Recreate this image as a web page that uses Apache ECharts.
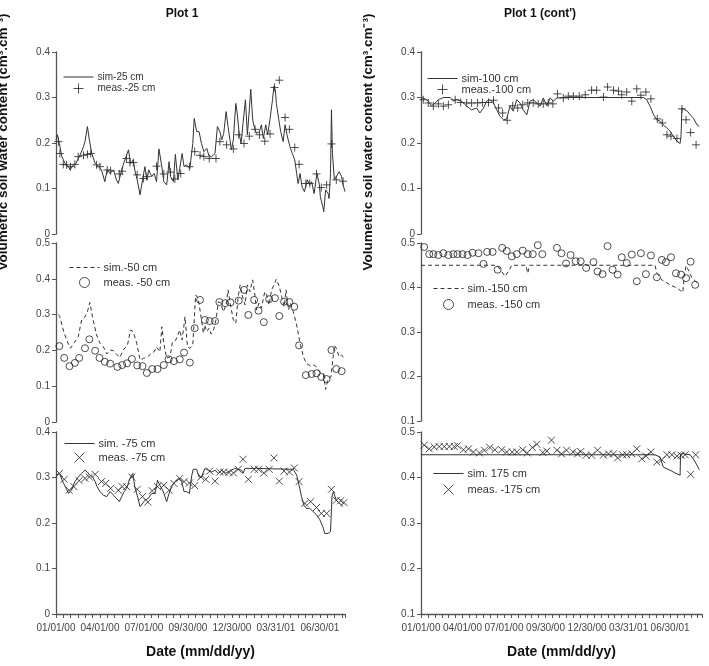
<!DOCTYPE html>
<html>
<head>
<meta charset="utf-8">
<script src="https://cdn.jsdelivr.net/npm/echarts@6/dist/echarts.min.js"></script>
<style>
html, body { margin: 0; padding: 0; background: #fff; }
#chart { width: 709px; height: 666px; }
</style>
</head>
<body>
<div id="chart"></div>
<script>
// x values are days counted from 01/01/00
var sim25Day = [0,3,7,12,19,26,29,36,41,50,57,60,65,69,74,81,88,94,101,106,112,119,125,129,134,139,145,150,154,160,163,168,174,179,184,188,192,198,203,208,213,219,223,229,234,237,243,247,252,256,261,265,270,277,283,286,291,296,301,306,312,317,322,329,334,339,343,347,352,356,360,363,367,372,375,379,383,387,392,396,400,403,407,410,415,421,425,429,434,438,443,448,451,454,456,461,465,470,474,478,484,489,494,498,501,505,509,514,517,520,525,529,534,538,540,545,547,552,554,558,563,565,568,570,572,576,580,586,591,594,598];
var sim25Val = [.207,.218,.199,.170,.155,.148,.141,.152,.155,.174,.192,.203,.236,.207,.177,.155,.148,.141,.115,.141,.133,.141,.119,.111,.133,.152,.170,.185,.155,.163,.141,.119,.086,.119,.148,.119,.141,.126,.133,.115,.187,.148,.115,.108,.159,.126,.115,.175,.119,.144,.177,.148,.152,.144,.199,.254,.225,.225,.199,.181,.188,.170,.170,.177,.236,.225,.207,.221,.269,.236,.207,.185,.207,.287,.265,.221,.199,.243,.295,.218,.273,.318,.251,.236,.221,.225,.240,.210,.240,.218,.254,.295,.325,.316,.287,.251,.225,.203,.240,.218,.192,.177,.163,.133,.111,.133,.104,.093,.089,.119,.108,.115,.089,.086,.133,.108,.082,.060,.049,.097,.089,.078,.133,.273,.177,.119,.119,.137,.126,.108,.093];
var meas25Day = [5,8,15,22,30,39,46,57,65,72,84,91,106,113,131,137,146,153,160,168,181,188,208,223,237,246,258,276,287,298,306,317,331,339,353,367,378,389,400,412,421,432,443,452,462,474,483,494,503,517,525,539,549,560,570,580,594];
var meas25Val = [.203,.177,.153,.152,.148,.153,.170,.173,.175,.177,.152,.148,.141,.139,.132,.138,.166,.157,.157,.130,.122,.126,.149,.132,.136,.121,.133,.148,.181,.173,.170,.166,.166,.203,.196,.187,.218,.199,.215,.230,.218,.204,.220,.322,.338,.256,.230,.190,.153,.111,.111,.132,.102,.108,.198,.119,.116];

var sim50Day = [5,8,15,22,30,37,46,53,60,65,70,76,84,91,98,105,112,119,125,132,139,148,154,160,167,174,181,188,196,203,208,215,219,223,229,236,241,248,256,261,267,272,277,283,289,294,299,305,308,312,317,321,325,331,336,341,346,352,356,361,367,372,377,381,385,391,396,401,407,412,415,420,425,432,436,441,446,451,456,462,467,472,476,481,485,491,498,505,512,518,527,534,539,546,553,558,563,569,576,580,586,591,596];
var sim50Val = [.300,.294,.257,.229,.206,.220,.238,.285,.294,.308,.334,.290,.243,.220,.210,.190,.201,.199,.190,.180,.201,.215,.257,.252,.220,.173,.178,.180,.190,.196,.210,.196,.266,.220,.178,.182,.224,.229,.257,.229,.294,.210,.206,.215,.355,.346,.304,.248,.271,.252,.262,.246,.252,.285,.336,.332,.308,.327,.369,.327,.285,.276,.350,.383,.355,.327,.383,.364,.397,.350,.313,.332,.318,.364,.355,.327,.369,.383,.399,.379,.350,.322,.369,.313,.332,.308,.271,.220,.182,.164,.156,.159,.154,.140,.136,.091,.121,.126,.215,.206,.182,.187,.178];
var meas50Day = [7,17,28,39,48,60,69,81,90,101,112,127,137,147,157,168,179,188,199,210,223,233,244,256,265,277,287,298,308,318,329,338,350,361,378,389,398,410,419,430,441,453,462,472,483,493,503,517,529,539,549,560,570,580,591];
var meas50Val = [.212,.179,.156,.165,.179,.206,.231,.199,.179,.168,.163,.154,.159,.164,.176,.158,.156,.137,.148,.148,.159,.175,.170,.175,.194,.166,.262,.341,.285,.282,.282,.335,.332,.334,.339,.369,.299,.341,.311,.279,.343,.346,.296,.336,.335,.322,.214,.131,.134,.136,.126,.120,.201,.148,.142];

var sim75Day = [0,7,14,21,26,32,39,46,53,60,65,70,76,81,85,91,98,105,112,119,125,131,136,141,146,153,159,163,168,174,177,184,191,198,205,210,215,222,229,234,239,246,253,260,265,270,276,281,284,291,296,301,308,315,322,329,336,343,350,356,363,370,377,384,387,391,401,415,491,498,503,508,513,518,525,532,539,546,552,556,563,568,571,574,580,587,594];
var sim75Val = [.305,.309,.291,.276,.265,.272,.291,.301,.309,.316,.312,.305,.301,.291,.280,.269,.261,.258,.269,.261,.254,.247,.258,.269,.276,.298,.309,.280,.261,.236,.232,.250,.254,.265,.265,.294,.283,.269,.247,.265,.280,.291,.298,.291,.269,.269,.265,.305,.318,.318,.301,.301,.320,.316,.312,.316,.309,.316,.309,.312,.316,.320,.318,.316,.309,.320,.320,.320,.318,.305,.283,.258,.239,.232,.232,.225,.218,.207,.192,.177,.177,.181,.258,.269,.250,.243,.236];
var meas75Day = [7,17,27,37,48,60,69,81,94,103,113,129,137,146,157,168,179,190,199,210,223,234,244,256,265,276,287,300,310,318,329,339,347,358,367,377,387,398,410,419,430,441,451,462,472,483,493,503,515,527,539,549,560,570,580,589,596];
var meas75Val = [.309,.296,.272,.280,.293,.298,.301,.307,.291,.287,.276,.272,.280,.280,.301,.274,.258,.246,.271,.280,.283,.272,.287,.298,.291,.288,.282,.301,.296,.314,.292,.312,.312,.311,.310,.318,.340,.296,.318,.318,.310,.318,.343,.292,.314,.312,.321,.291,.243,.247,.234,.221,.221,.274,.250,.249,.245];

var sim100Day = [0,9,16,23,31,38,49,64,71,78,89,100,111,122,129,137,144,151,159,166,173,181,188,195,202,210,217,224,232,239,246,254,261,268,276,283,290,298,312,488,495,502,510,517,524,531,539,546,553,561,568,570,572,578,584,590,597,605,610];
var sim100Val = [.300,.297,.292,.282,.288,.295,.300,.300,.292,.295,.292,.281,.273,.277,.266,.277,.292,.295,.288,.273,.259,.251,.253,.281,.270,.295,.288,.273,.262,.292,.295,.288,.281,.299,.282,.299,.292,.299,.300,.300,.295,.281,.262,.251,.248,.240,.233,.226,.215,.204,.199,.215,.277,.273,.270,.262,.255,.240,.237];
var meas100Day = [5,16,27,38,49,60,75,87,100,111,124,135,148,159,170,179,189,201,212,223,234,246,257,268,279,289,299,312,323,334,347,360,374,385,400,409,422,433,440,451,462,473,482,493,504,518,529,539,548,561,572,581,591,603];
var meas100Val = [.295,.288,.281,.286,.281,.284,.295,.289,.288,.288,.288,.289,.289,.294,.277,.266,.250,.282,.277,.284,.288,.288,.286,.286,.288,.286,.308,.299,.303,.303,.303,.306,.316,.316,.301,.323,.316,.314,.306,.312,.292,.319,.305,.312,.297,.253,.244,.218,.215,.210,.275,.251,.223,.196];

var sim150Day = [0,166,177,184,188,194,199,230,234,238,513,517,528,546,561,574,577,581,586,594,601,608];
var sim150Val = [.450,.450,.436,.425,.429,.440,.450,.450,.432,.450,.450,.432,.417,.406,.399,.389,.425,.449,.440,.421,.415,.406];
var meas150Day = [7,18,27,38,49,60,71,80,91,102,113,126,137,145,157,168,178,188,199,210,223,234,245,256,266,276,287,298,308,318,328,339,350,362,378,387,398,409,420,431,440,451,462,473,482,493,504,517,528,537,548,559,570,581,591,601];
var meas150Val = [.491,.475,.475,.473,.477,.473,.475,.475,.475,.473,.478,.477,.453,.480,.480,.440,.489,.482,.470,.475,.483,.475,.475,.495,.475,.508,.514,.489,.477,.454,.473,.459,.459,.444,.457,.436,.430,.493,.440,.429,.468,.455,.474,.414,.477,.430,.472,.423,.462,.457,.468,.432,.429,.421,.458,.406];

var sim175Day = [0,513,524,531,546,557,568,569,575,590,597,605,610];
var sim175Val = [.450,.450,.445,.423,.416,.410,.405,.452,.452,.450,.441,.427,.417];
var meas175Day = [7,18,29,40,51,62,73,80,93,104,115,128,139,151,162,177,188,200,210,223,233,244,254,267,276,286,298,308,319,333,343,350,362,374,387,400,411,422,431,442,451,462,473,484,493,504,517,528,539,550,561,570,579,591,602];
var meas175Val = [.471,.463,.467,.468,.468,.468,.468,.470,.461,.463,.456,.454,.460,.466,.461,.461,.456,.456,.456,.461,.454,.466,.473,.455,.458,.482,.460,.452,.460,.456,.452,.457,.449,.449,.460,.449,.452,.452,.443,.450,.450,.452,.463,.441,.447,.456,.434,.439,.450,.450,.447,.449,.450,.407,.450];

var tickDays = [0, 91, 182, 273, 364, 455, 546];

var FONT = 'Liberation Sans, Arial, sans-serif';
var PLUS = 'path://M5,0L5,10M0,5L10,5';
var CROSS = 'path://M0,0L10,10M10,0L0,10';

function zip(a, b) {
    var out = [];
    for (var i = 0; i < a.length; i++) out.push([a[i], b[i]]);
    return out;
}

function dateLabel(v) {
    if (tickDays.indexOf(v) < 0) return '';
    var d = new Date(2000, 0, 1 + v);
    var p = function (n) { return (n < 10 ? '0' : '') + n; };
    return p(d.getMonth() + 1) + '/' + p(d.getDate()) + '/' + p(d.getFullYear() % 100);
}

function simLine(name, idx, days, vals, dashed) {
    return {
        type: 'line', name: name, xAxisIndex: idx, yAxisIndex: idx,
        data: zip(days, vals), symbol: 'none', animation: false,
        lineStyle: { color: '#333', width: 1, type: dashed ? [4, 3] : 'solid' },
        itemStyle: { color: '#333' }
    };
}

function measPoints(name, idx, days, vals, symbol, size) {
    return {
        type: 'scatter', name: name, xAxisIndex: idx, yAxisIndex: idx,
        data: zip(days, vals), symbol: symbol, symbolSize: size, animation: false,
        itemStyle: { color: 'rgba(0,0,0,0)', borderColor: '#222', borderWidth: 1 }
    };
}

function xAx(idx, max, bottom) {
    return {
        type: 'value', gridIndex: idx, min: 0, max: max, interval: 91,
        show: bottom,
        name: bottom ? 'Date (mm/dd/yy)' : '', nameLocation: 'middle', nameGap: 31,
        nameTextStyle: { fontFamily: FONT, fontSize: 14, fontWeight: 'bold', color: '#111' },
        axisLine: { lineStyle: { color: '#555', width: 1.3 } },
        axisTick: { length: 4, lineStyle: { color: '#555' } },
        minorTick: { show: true, splitNumber: 6, length: 4, lineStyle: { color: '#555' } },
        axisLabel: { formatter: dateLabel, fontFamily: FONT, fontSize: 10, color: '#444', margin: 9 },
        splitLine: { show: false }
    };
}

function yAx(idx, min, max) {
    return {
        type: 'value', gridIndex: idx, min: min, max: max, interval: 0.1,
        axisLine: { show: true, lineStyle: { color: '#555', width: 1.3 } },
        axisTick: { show: true, length: 4, lineStyle: { color: '#555' } },
        axisLabel: { fontFamily: FONT, fontSize: 10, color: '#444', margin: 6 },
        splitLine: { show: false }
    };
}

// line entries get a plain line icon, marker entries keep their symbol
function legendBox(simName, measName, left, top, gap, size) {
    return {
        data: [
            { name: simName, itemStyle: { opacity: 0 }, lineStyle: { width: 1 } },
            { name: measName, itemStyle: { borderWidth: 1 } }
        ],
        orient: 'vertical', left: left, top: top,
        itemWidth: 30, itemHeight: 10, itemGap: gap, padding: 0,
        selectedMode: false,
        textStyle: { fontFamily: FONT, fontSize: size, color: '#333', lineHeight: 10, padding: [0, 0, 0, -1] }
    };
}

var chart = echarts.init(document.getElementById('chart'));

var option = {
    backgroundColor: '#fff',
    animation: false,
    grid: [
        { left: 56, top: 52, width: 289, height: 182 },
        { left: 56, top: 243, width: 289, height: 179 },
        { left: 56, top: 432, width: 289, height: 182 },
        { left: 421, top: 52, width: 281, height: 182 },
        { left: 421, top: 243, width: 281, height: 178 },
        { left: 421, top: 432, width: 281, height: 182 }
    ],
    xAxis: [
        xAx(0, 598, false), xAx(1, 598, false), xAx(2, 598, true),
        xAx(3, 616, false), xAx(4, 616, false), xAx(5, 616, true)
    ],
    yAxis: [
        yAx(0, 0, 0.4), yAx(1, 0, 0.5), yAx(2, 0, 0.4),
        yAx(3, 0, 0.4), yAx(4, 0.1, 0.5), yAx(5, 0.1, 0.5)
    ],
    legend: [
        legendBox('sim-25 cm', 'meas.-25 cm', 63, 72, 1, 10),
        legendBox('sim.-50 cm', 'meas. -50 cm', 69, 262, 4, 11),
        legendBox('sim. -75 cm', 'meas. -75 cm', 64, 438, 3, 11),
        legendBox('sim-100 cm', 'meas.-100 cm', 427, 73, 0, 11),
        legendBox('sim.-150 cm', 'meas. -150 cm', 433, 283, 5, 11),
        legendBox('sim. 175 cm', 'meas. -175 cm', 433, 468, 5, 11)
    ],
    graphic: [
        { type: 'text', x: 182, y: 14, style: { text: 'Plot 1', font: 'bold 12px ' + FONT, fill: '#111', align: 'center', verticalAlign: 'middle' } },
        { type: 'text', x: 540, y: 14, style: { text: "Plot 1 (cont')", font: 'bold 12px ' + FONT, fill: '#111', align: 'center', verticalAlign: 'middle' } },
        { type: 'text', x: 3, y: 142, rotation: Math.PI / 2, style: { text: 'Volumetric soil water content (cm³.cm⁻³)', font: 'bold 13.5px ' + FONT, fill: '#111', align: 'center', verticalAlign: 'middle' } },
        { type: 'text', x: 368, y: 142, rotation: Math.PI / 2, style: { text: 'Volumetric soil water content (cm³.cm⁻³)', font: 'bold 13.5px ' + FONT, fill: '#111', align: 'center', verticalAlign: 'middle' } }
    ],
    series: [
        simLine('sim-25 cm', 0, sim25Day, sim25Val, false),
        measPoints('meas.-25 cm', 0, meas25Day, meas25Val, PLUS, 8),
        simLine('sim.-50 cm', 1, sim50Day, sim50Val, true),
        measPoints('meas. -50 cm', 1, meas50Day, meas50Val, 'circle', 7),
        simLine('sim. -75 cm', 2, sim75Day, sim75Val, false),
        measPoints('meas. -75 cm', 2, meas75Day, meas75Val, CROSS, 7),
        simLine('sim-100 cm', 3, sim100Day, sim100Val, false),
        measPoints('meas.-100 cm', 3, meas100Day, meas100Val, PLUS, 8),
        simLine('sim.-150 cm', 4, sim150Day, sim150Val, true),
        measPoints('meas. -150 cm', 4, meas150Day, meas150Val, 'circle', 7),
        simLine('sim. 175 cm', 5, sim175Day, sim175Val, false),
        measPoints('meas. -175 cm', 5, meas175Day, meas175Val, CROSS, 7)
    ]
};

chart.setOption(option);
</script>
</body>
</html>
